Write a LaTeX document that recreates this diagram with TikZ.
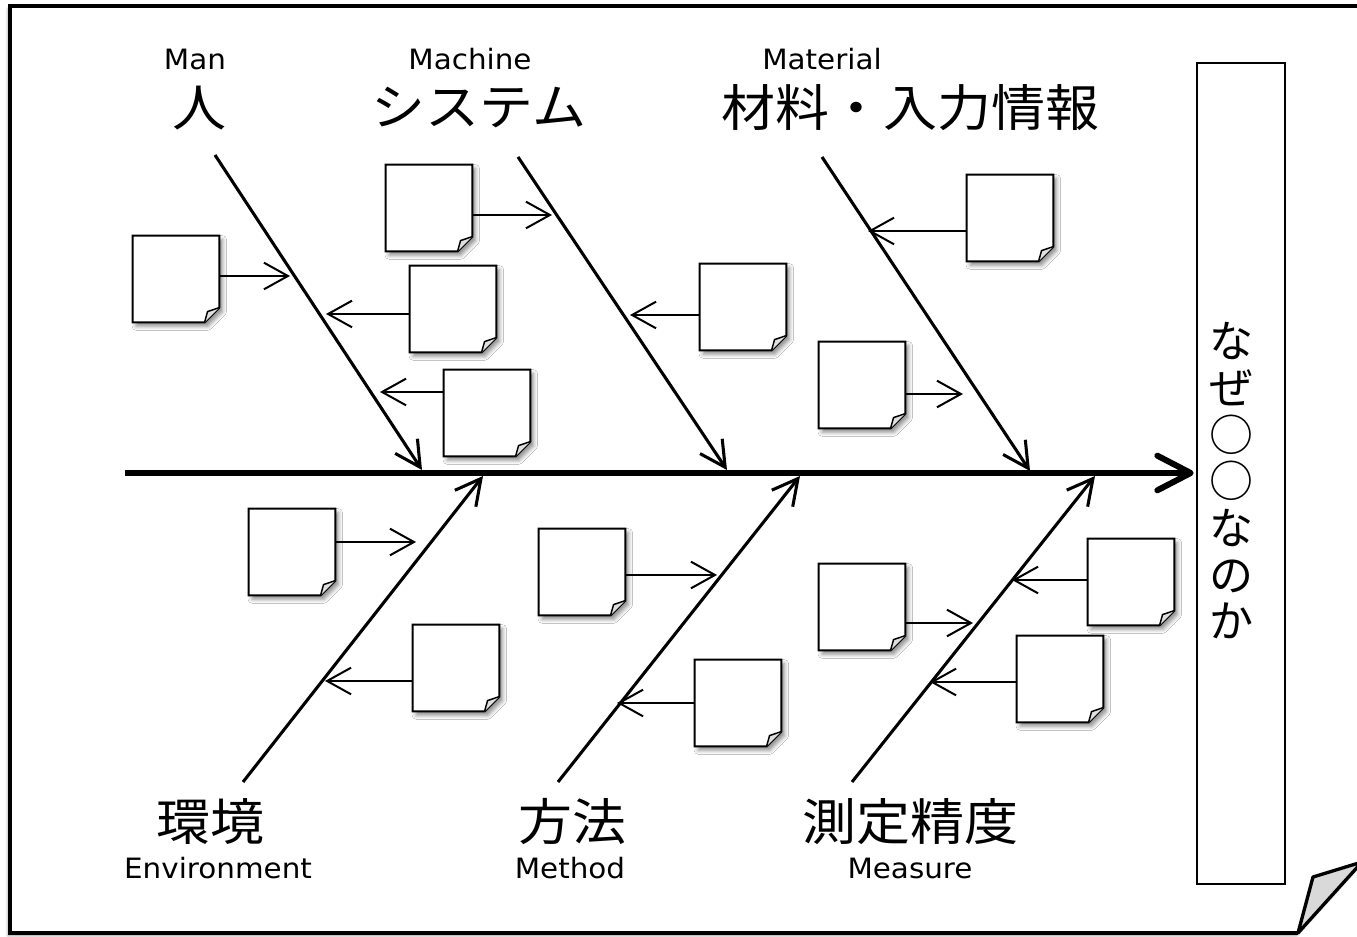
\documentclass[tikz,border=0pt]{standalone}
\usepackage{fontspec}
\setmainfont{DejaVu Sans}[FakeStretch=1.05]
\newfontfamily\jpfont{Noto Sans CJK JP}[FakeStretch=1.08]
\newfontfamily\tatefont{Noto Sans CJK JP}
\usetikzlibrary{arrows.meta,shadows.blur}

\begin{document}
\begin{tikzpicture}[x=0.75pt,y=-0.75pt,
note/.style={
rectangle,
minimum size=64.5pt,
inner sep=0pt
},
paper/.style={draw,line width=1.5pt,fill=white,
blur shadow={shadow xshift=2.5pt,shadow yshift=-3pt,shadow blur radius=3pt,shadow opacity=45}},
curl/.style={draw,line width=1.1pt,fill=gray!25,line join=round},
en/.style={font=\fontsize{21}{23}\selectfont,inner sep=0pt},
jp/.style={font=\jpfont\fontsize{37.5}{40}\selectfont,inner sep=0pt},
bone/.style={-{Straight Barb[length=19pt,width=20pt]},line width=2.3pt},
twig/.style={-{Straight Barb[length=18pt,width=20pt]},line width=1.5pt},
spine/.style={-{Straight Barb[length=25pt,width=26pt,round]},line width=4.5pt,shorten >=1.5pt},
]
\useasboundingbox (0,0) rectangle (1357,937);

% sheet with folded corner
\fill[white,blur shadow={shadow xshift=-1.5pt,shadow yshift=-2pt,shadow blur radius=2pt,shadow opacity=40}]
(10,6) -- (1362,6) -- (1362,862) -- (1298,933) -- (10,933) -- cycle;
\draw[line width=2.5pt] (1362,6) -- (10,6) -- (10,933) -- (1298,933);
\filldraw[line width=2.5pt,fill=gray!30,line join=round] (1298,933) -- (1313,877) -- (1362,862) -- cycle;

% effect box
\node (why) [draw,line width=2pt,minimum width=66pt,minimum height=615.75pt,inner sep=0pt] at (1241,473.5) {};
\node (whytext) [font=\tatefont\fontsize{33}{35}\selectfont,align=center,inner sep=0pt] at (1231,481)
{な\\ぜ\\○\\○\\な\\の\\か};

% categories
\node (man) [en] at (195,59) {Man};
\node (manjp) [jp] at (199,108) {人};
\node (machine) [en] at (470,59) {Machine};
\node (machinejp) [jp] at (479,108) {システム};
\node (material) [en] at (822,59) {Material};
\node (materialjp) [jp] at (910,108) {材料・入力情報};
\node (envjp) [jp] at (210,822) {環境};
\node (env) [en] at (218,868) {Environment};
\node (methodjp) [jp] at (572,822) {方法};
\node (method) [en] at (570,868) {Method};
\node (measurejp) [jp] at (910,822) {測定精度};
\node (measure) [en] at (910,868) {Measure};

% sticky notes
\foreach \n/\x/\y in {n1/176/279,n2/429/208,n3/453/309,n4/487/413,n5/743/307,
n6/1010/218,n7/862/385,n8/292/552,n9/456/668,n10/582/572,n11/738/703,
n12/862/607,n13/1131/582,n14/1060/679}
\node (\n) [note] at (\x,\y) {};
\foreach \n in {n1,n2,n3,n4,n5,n6,n7,n8,n9,n10,n11,n12,n13,n14}{
\draw[paper] (\n.north west) -- (\n.north east) -- ([yshift=11pt]\n.south east)
-- ([xshift=-11pt]\n.south east) -- (\n.south west) -- cycle;
\draw[curl] ([yshift=11pt]\n.south east) -- ([xshift=-8.8pt,yshift=8pt]\n.south east)
-- ([xshift=-11pt]\n.south east);
}

% bones
\coordinate (tail) at (125,473);
\coordinate (manA) at (215,155);
\coordinate (manB) at (422,470);
\coordinate (machineA) at (518,157);
\coordinate (machineB) at (727,470);
\coordinate (materialA) at (822,157);
\coordinate (materialB) at (1030,471);
\coordinate (envA) at (243,782);
\coordinate (envB) at (483,476);
\coordinate (methodA) at (558,782);
\coordinate (methodB) at (800,476);
\coordinate (measureA) at (852,782);
\coordinate (measureB) at (1095,476);
\draw[bone] (manA) -- (manB);
\draw[bone] (machineA) -- (machineB);
\draw[bone] (materialA) -- (materialB);
\draw[bone] (envA) -- (envB);
\draw[bone] (methodA) -- (methodB);
\draw[bone] (measureA) -- (measureB);

% causes
\foreach \n/\s/\x/\y in {n1/east/290/276,n2/east/552/215,n3/west/326/314,
n4/west/380/392,n5/west/630/315,n6/west/868/231,n7/east/963/394,
n8/east/416/542,n9/west/325/681,n10/east/717/575,n11/west/617/703,
n12/east/973/623,n13/west/1012/580,n14/west/930/682}{
\coordinate (t\n) at (\x,\y);
\draw[twig] (\n.\s |- t\n) -- (t\n);
}

\draw[spine] (tail) -- (tail -| why.west);
\end{tikzpicture}
\end{document}
